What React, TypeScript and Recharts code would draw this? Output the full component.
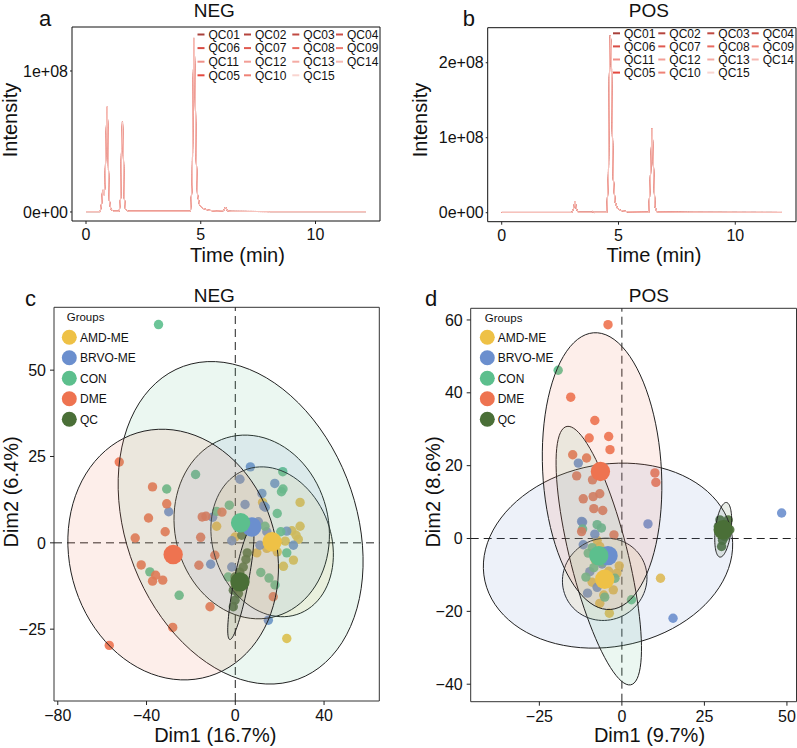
import React from "react";
import {
  LineChart,
  Line,
  XAxis,
  YAxis,
  ReferenceArea,
  ReferenceLine,
  ScatterChart,
  Scatter,
} from "recharts";

const FONT = "'Liberation Sans', Arial, Helvetica, sans-serif";

// ---------- Chromatograms (a, b) ----------
const qcNames = [
  "QC01", "QC02", "QC03", "QC04", "QC05", "QC06", "QC07", "QC08",
  "QC09", "QC10", "QC11", "QC12", "QC13", "QC14", "QC15",
];
const qcColors = [
  "#A8403A", "#B5443D", "#C04A42", "#CC5048", "#E4483E", "#D84C44", "#E05A50", "#E86A5F",
  "#EC7C70", "#EF8276", "#EF9088", "#F29E96", "#F4ABA4", "#F6B9B3", "#F9D5D0",
];
const qcLegendRows = [
  ["QC01", "QC02", "QC03", "QC04"],
  ["QC06", "QC07", "QC08", "QC09"],
  ["QC11", "QC12", "QC13", "QC14"],
  ["QC05", "QC10", "QC15"],
];

const negTime = [0, 0.62, 0.68, 0.72, 0.75, 0.79, 0.83, 0.88, 0.92, 0.95, 0.98, 1.02, 1.08, 1.2, 1.45, 1.51, 1.55, 1.59, 1.63, 1.67, 1.72, 1.85, 4.55, 4.63, 4.67, 4.71, 4.75, 4.8, 4.86, 4.95, 5.1, 5.35, 5.7, 6.0, 6.08, 6.15, 6.3, 8.0, 12.2];
const negIntensity = [0.3e6, 0.3e6, 6e6, 14e6, 15.6e6, 12e6, 20e6, 55e6, 74.5e6, 60e6, 30e6, 8e6, 2e6, 0.5e6, 0.5e6, 10e6, 45e6, 64e6, 40e6, 10e6, 2e6, 0.5e6, 0.5e6, 20e6, 90e6, 123.4e6, 95e6, 40e6, 12e6, 5e6, 2.5e6, 1.2e6, 0.6e6, 1e6, 3.5e6, 1e6, 0.4e6, 0.3e6, 0.3e6];

const posTime = [0, 3.0, 3.08, 3.14, 3.2, 3.28, 3.85, 3.9, 3.96, 4.5, 4.57, 4.61, 4.65, 4.69, 4.73, 4.78, 4.85, 4.95, 5.1, 5.4, 6.3, 6.37, 6.44, 6.5, 6.56, 6.65, 8.0, 12.0];
const posIntensity = [0.3e6, 0.3e6, 6e6, 15.6e6, 5e6, 0.5e6, 0.5e6, 1.5e6, 0.4e6, 0.4e6, 50e6, 180e6, 236e6, 220e6, 120e6, 45e6, 15e6, 6e6, 3e6, 1.2e6, 0.5e6, 50e6, 112.5e6, 60e6, 8e6, 0.8e6, 0.4e6, 0.3e6];

const chromXTicks = [0, 5, 10];
const negYTicks = [0, 1e8];
const posYTicks = [0, 1e8, 2e8];

function buildChrom(time: number[], inten: number[]) {
  return time.map((t, i) => {
    const row: any = { t };
    qcNames.forEach((n) => (row[n] = inten[i]));
    return row;
  });
}
const negChrom = buildChrom(negTime, negIntensity);
const posChrom = buildChrom(posTime, posIntensity);

function sciFmt(v: number) {
  if (v === 0) return "0e+00";
  const e = Math.floor(Math.log10(v));
  const m = v / Math.pow(10, e);
  return `${m.toFixed(0)}e+${String(e).padStart(2, "0")}`;
}
function minusFmt(v: number) {
  return v < 0 ? "\u2212" + Math.abs(v) : String(v);
}

// ---------- PCA (c, d) ----------
const groups = ["AMD-ME", "BRVO-ME", "CON", "DME", "QC"];
const groupColors = ["#EEC146", "#6B8FCE", "#5CBF8D", "#EE7350", "#4A6F37"];

const negAMD = [[29.2, 11.7], [12.3, 11.7], [-8.4, 4.8], [29.2, 4.8], [27.4, 2.2], [28.4, 1.0], [-0.1, 1.7], [9.7, -2.9], [14.2, -1.6], [18.9, -2.6], [26.2, -5.0], [21.7, -6.8], [23.2, -27.7], [22.5, 0.5], [25.5, 3.5]];
const negBRVO = [[-30.0, 9.0], [6.8, 22.0], [2.1, 18.4], [17.8, 17.2], [12.0, 14.3], [13.5, 10.3], [4.4, 11.1], [-10.2, 7.4], [10.4, 6.1], [14.2, 3.2], [23.2, 3.4], [26.2, -0.7], [-1.6, 0.6], [11.1, -0.7], [-11.1, -6.2], [-1.6, -7.0], [14.9, -22.4], [12.8, 10.7], [7.0, 3.5]];
const negCON = [[-34.6, 63.2], [-30.9, 15.6], [-38.5, -8.4], [-25.3, -15.2], [-17.9, 19.8], [21.4, 20.6], [21.5, 15.6], [20.8, 14.8], [-2.7, 10.9], [18.9, 8.5], [-8.4, 9.1], [13.4, 4.8], [20.5, 3.2], [23.2, -2.9], [11.5, -8.6], [15.2, -10.2], [17.9, -12.2], [-3.2, -9.9], [8.5, 5.5]];
const negDME = [[-52.3, 23.4], [-37.3, 16.2], [-30.9, 11.3], [-39.1, 7.2], [-31.6, 3.2], [-45.1, 1.4], [-42.4, -6.4], [-35.9, -9.4], [-37.3, -11.1], [-32.7, -10.8], [-28.2, -24.5], [-56.8, -29.7], [-14.9, 7.5], [-15.6, 1.6], [-16.4, -6.5], [-13.2, 7.7], [-6.0, 8.9], [-9.2, -3.6], [17.1, -15.6], [-11.4, -18.5]];
const negQC = [[5.4, -2.9], [4.8, -4.8], [3.6, -7.0], [2.0, -8.5], [-0.1, -9.9], [3.5, -11.0], [1.5, -12.0], [-0.9, -13.7], [1.4, -14.7], [-0.1, -16.6], [-0.9, -18.5], [2.9, 2.2]];
const negCentroids = [[16.6, 0.3], [7.4, 4.6], [2.4, 5.8], [-28.0, -3.4], [2.1, -11.3]];
// [cx, cy, ux, uy, vx, vy] conjugate semi-diameters
const negEllipses = [
  [16.6, 0.3, 27.2, 0, -4.7, 21.7],
  [7.4, 4.6, 34.9, 0, -3.0, 26.6],
  [2.4, 5.8, 53.6, 0, -13.2, 46.7],
  [-28.0, -3.4, 47.2, 0, -5.0, 36.3],
  [2.5, -11.7, 3.3, 0, 4.9, 16.3],
];

const posAMD = [[-6.7, -2.2], [-0.8, -7.5], [-6.7, -17.8], [-3.8, -20.5], [11.7, -10.9], [-2.6, -14.1], [-9.0, -12.0], [-4.0, -9.0], [-8.0, -6.0], [-5.5, -15.5], [-1.5, -9.5], [-7.5, -0.5]];
const posBRVO = [[-13.2, 20.7], [-11.9, 4.5], [-8.2, 1.2], [7.9, 4.0], [-11.7, -1.7], [-9.7, -9.1], [-7.5, -13.4], [-10.4, -15.0], [15.5, -21.9], [48.4, 7.0], [-3.0, -4.0], [-6.0, -7.0], [-12.2, 4.7]];
const posCON = [[-19.3, 46.2], [-11.9, 2.6], [-7.5, 3.8], [-6.2, 2.9], [-10.2, -4.0], [-10.9, -10.6], [-2.1, -10.9], [-5.2, -16.1], [2.9, -16.8], [-8.5, -8.0], [-6.0, -6.5], [-9.0, -2.5]];
const posDME = [[-4.2, 58.7], [-15.5, 38.8], [-8.2, 32.4], [-9.9, 27.6], [-4.0, 28.0], [-3.6, 24.4], [-14.9, 23.0], [-10.7, 22.1], [-13.7, 17.2], [-8.9, 16.1], [10.0, 18.0], [10.3, 15.4], [-11.7, 10.9], [-8.7, 11.5], [-6.7, 12.3], [-8.5, 8.2], [-5.8, 7.7], [-12.2, 1.9], [-2.4, 1.0]];
const posQC = [[29.7, 5.1], [32.2, 5.1], [30.2, 1.9], [31.2, 0.5], [30.2, -2.2], [32.7, 2.4], [29.2, 3.3], [31.5, 3.8], [30.5, -0.5]];
const posCentroids = [[-5.2, -11.2], [-4.2, -4.7], [-7.0, -4.7], [-6.5, 18.4], [30.7, 2.4]];
const posEllipses = [
  [-5.2, -11.2, 12.8, 0, 0.5, 11.3],
  [-4.2, -4.7, 37.5, 0, 4.5, 25.4],
  [-7.0, -4.7, 9.0, 0, -9.3, 35.5],
  [-6.0, 18.5, 18.0, 0, -2.0, 38.0],
  [30.7, 2.4, 2.4, 0, 0.9, 7.5],
];

const negXTicks = [-80, -40, 0, 40];
const negYTicksPca = [-25, 0, 25, 50];
const posXTicks = [-25, 0, 25, 50];
const posYTicksPca = [-40, -20, 0, 20, 40, 60];

const toPts = (arr: number[][]) => arr.map(([x, y]) => ({ x, y }));

function ellipsePoints(e: number[]) {
  const [cx, cy, ux, uy, vx, vy] = e;
  const pts: { x: number; y: number }[] = [];
  for (let k = 0; k <= 90; k++) {
    const a = (k / 90) * 2 * Math.PI;
    pts.push({ x: cx + ux * Math.cos(a) + vx * Math.sin(a), y: cy + uy * Math.cos(a) + vy * Math.sin(a) });
  }
  return pts;
}

const tickStyle = { fontSize: 16, fill: "#111", fontFamily: FONT };
const emptyShape = () => <g />;

function ellipseLine(color: string) {
  return (props: any) => {
    const pts = props.points || [];
    if (!pts.length) return <g />;
    const d = "M" + pts.map((p: any) => `${p.x},${p.y}`).join("L") + "Z";
    return <path d={d} fill={color} fillOpacity={0.12} stroke="#222" strokeWidth={1} />;
  };
}

function dotShape(color: string, r: number, op: number) {
  return (props: any) => <circle cx={props.cx} cy={props.cy} r={r} fill={color} fillOpacity={op} />;
}

function Chrom({ data, xDomain, yDomain, yTicks, width, height, margin }: any) {
  return (
    <LineChart width={width} height={height} data={data} margin={margin}>
      <XAxis type="number" dataKey="t" domain={xDomain} allowDataOverflow ticks={chromXTicks} tickSize={3} tickMargin={5} axisLine={false} height={30} tick={tickStyle} tickLine={{ stroke: "#222" }} />
      <YAxis type="number" domain={yDomain} allowDataOverflow ticks={yTicks} tickFormatter={sciFmt} width={60} tickSize={2} tickMargin={2} axisLine={false} tick={tickStyle} tickLine={{ stroke: "#222" }} />
      {qcNames.map((n, i) => (
        <Line key={n} dataKey={n} type="linear" stroke={qcColors[i]} strokeOpacity={0.55} strokeWidth={1} dot={false} isAnimationActive={false} />
      ))}
      <ReferenceArea x1={xDomain[0]} x2={xDomain[1]} y1={yDomain[0]} y2={yDomain[1]} fill="none" stroke="#111" strokeWidth={1} ifOverflow="visible" />
    </LineChart>
  );
}

function Pca({ pointSets, centroids, ellipses, xDomain, yDomain, xTicks, yTicks, width, height, margin }: any) {
  return (
    <ScatterChart width={width} height={height} margin={margin}>
      <XAxis type="number" dataKey="x" domain={xDomain} allowDataOverflow ticks={xTicks} tickFormatter={minusFmt} tickSize={4} tickMargin={5} axisLine={false} height={30} tick={tickStyle} tickLine={{ stroke: "#222" }} />
      <YAxis type="number" dataKey="y" domain={yDomain} allowDataOverflow ticks={yTicks} tickFormatter={minusFmt} tickSize={4} tickMargin={4} axisLine={false} width={40} tick={tickStyle} tickLine={{ stroke: "#222" }} />
      {pointSets.map((s: number[][], i: number) => (
        <Scatter key={"p" + i} data={toPts(s)} shape={dotShape(groupColors[i], 4.7, 0.9)} isAnimationActive={false} />
      ))}
      {ellipses.map((e: number[], i: number) => (
        <Scatter key={"e" + i} data={ellipsePoints(e)} shape={emptyShape} line={ellipseLine(groupColors[i])} lineType="joint" isAnimationActive={false} />
      ))}
      {centroids.map((c: number[], i: number) => (
        <Scatter key={"c" + i} data={toPts([c])} shape={dotShape(groupColors[i], 9.7, 1)} isAnimationActive={false} />
      ))}
      <ReferenceLine x={0} stroke="#222" strokeDasharray="8 5" strokeWidth={1} />
      <ReferenceLine y={0} stroke="#222" strokeDasharray="8 5" strokeWidth={1} />
      <ReferenceArea x1={xDomain[0]} x2={xDomain[1]} y1={yDomain[0]} y2={yDomain[1]} fill="none" stroke="#333" strokeWidth={1} ifOverflow="visible" />
    </ScatterChart>
  );
}

function QcLegend({ textX, rowY }: { textX: number[]; rowY: number[] }) {
  return (
    <g>
      {qcLegendRows.map((row, r) =>
        row.map((name, c) => {
          const idx = qcNames.indexOf(name);
          return (
            <g key={name}>
              <line x1={textX[c] - 11} x2={textX[c] - 4} y1={rowY[r]} y2={rowY[r]} stroke={qcColors[idx]} strokeWidth={2} />
              <text x={textX[c]} y={rowY[r] + 4.3} fontSize={12} fill="#111" fontFamily={FONT}>{name}</text>
            </g>
          );
        })
      )}
    </g>
  );
}

function GroupLegend({ x, titleY, y0, textX }: any) {
  return (
    <g>
      <text x={x} y={titleY} fontSize={11.5} fill="#111" fontFamily={FONT}>Groups</text>
      {groups.map((g, i) => (
        <g key={g}>
          <circle cx={x + 2.6} cy={y0 + i * 20.5} r={7.5} fill={groupColors[i]} />
          <text x={textX} y={y0 + i * 20.5 + 4.3} fontSize={12} fill="#111" fontFamily={FONT}>{g}</text>
        </g>
      ))}
    </g>
  );
}

export default function App() {
  return (
    <div style={{ position: "absolute", left: 0, top: 0, width: 797, height: 748, background: "#fff", overflow: "hidden" }}>
      <div style={{ position: "absolute", left: 0, top: 0 }}>
        <Chrom data={negChrom} xDomain={[-0.61, 12.81]} yDomain={[-0.064e8, 1.312e8]} yTicks={negYTicks} width={400} height={260} margin={{ top: 27, right: 20, bottom: 9, left: 12 }} />
      </div>
      <div style={{ position: "absolute", left: 400, top: 0 }}>
        <Chrom data={posChrom} xDomain={[-0.6, 12.6]} yDomain={[-0.12e8, 2.467e8]} yTicks={posYTicks} width={397} height={260} margin={{ top: 27.7, right: 1, bottom: 8.3, left: 27.7 }} />
      </div>
      <div style={{ position: "absolute", left: 0, top: 280 }}>
        <Pca pointSets={[negAMD, negBRVO, negCON, negDME, negQC]} centroids={negCentroids} ellipses={negEllipses} xDomain={[-81.7, 64.9]} yDomain={[-45.8, 68.2]} xTicks={negXTicks} yTicks={negYTicksPca} width={400} height={468} margin={{ top: 27.3, right: 20.7, bottom: 17, left: 14 }} />
      </div>
      <div style={{ position: "absolute", left: 400, top: 280 }}>
        <Pca pointSets={[posAMD, posBRVO, posCON, posDME, posQC]} centroids={posCentroids} ellipses={posEllipses} xDomain={[-45.8, 52.9]} yDomain={[-44.8, 63.2]} xTicks={posXTicks} yTicks={posYTicksPca} width={397} height={468} margin={{ top: 28.3, right: 0.5, bottom: 16.3, left: 30.7 }} />
      </div>
      <svg width={797} height={748} style={{ position: "absolute", left: 0, top: 0, pointerEvents: "none" }}>
        <g fontFamily={FONT} fill="#111">
          <text x={39} y={26} fontSize={22}>a</text>
          <text x={462.7} y={25.5} fontSize={22}>b</text>
          <text x={25} y={306} fontSize={22}>c</text>
          <text x={425} y={306} fontSize={22}>d</text>
          <text x={214.3} y={16.5} fontSize={19} textAnchor="middle">NEG</text>
          <text x={648.8} y={16.5} fontSize={19} textAnchor="middle">POS</text>
          <text x={214.3} y={301.5} fontSize={19} textAnchor="middle">NEG</text>
          <text x={648.8} y={301.7} fontSize={19} textAnchor="middle">POS</text>
          <text x={237.5} y={261.5} fontSize={20} textAnchor="middle">Time (min)</text>
          <text x={654} y={261.5} fontSize={20} textAnchor="middle">Time (min)</text>
          <text x={215.3} y={742} fontSize={20} textAnchor="middle">Dim1 (16.7%)</text>
          <text x={649.5} y={742} fontSize={20} textAnchor="middle">Dim1 (9.7%)</text>
          <text x={17} y={120} fontSize={20} textAnchor="middle" transform="rotate(-90 17 120)">Intensity</text>
          <text x={427} y={120} fontSize={20} textAnchor="middle" transform="rotate(-90 427 120)">Intensity</text>
          <text x={17.5} y={492} fontSize={20} textAnchor="middle" transform="rotate(-90 17.5 492)">Dim2 (6.4%)</text>
          <text x={439.5} y={492} fontSize={20} textAnchor="middle" transform="rotate(-90 439.5 492)">Dim2 (8.6%)</text>
        </g>
        <QcLegend textX={[208.5, 255, 303.3, 347]} rowY={[34.5, 48.1, 61.7, 75.3]} />
        <QcLegend textX={[624, 669.3, 718.3, 762.7]} rowY={[33.3, 46.4, 59.5, 72.6]} />
        <GroupLegend x={66.7} titleY={321} y0={337.3} textX={80} />
        <GroupLegend x={484.7} titleY={322} y0={337.3} textX={497.7} />
      </svg>
    </div>
  );
}
